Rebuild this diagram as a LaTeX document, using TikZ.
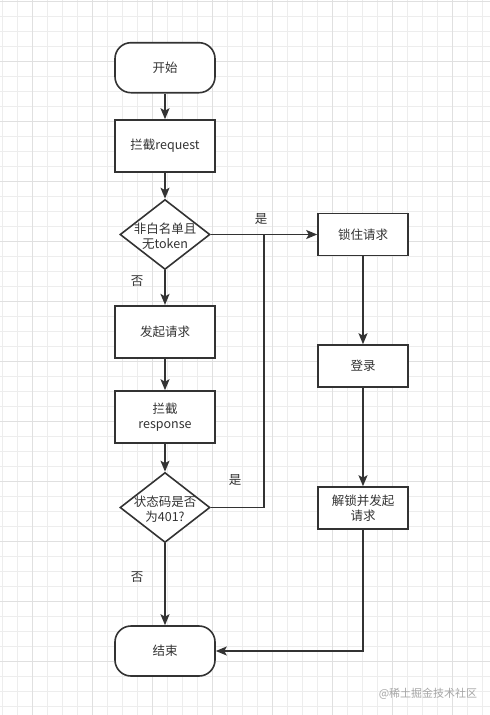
\documentclass[tikz,border=0pt]{standalone}
\usepackage{fontspec}
\setmainfont{Noto Sans CJK SC}
\usetikzlibrary{shapes.geometric,arrows.meta}
\definecolor{ink}{HTML}{333333}
\definecolor{txt}{HTML}{333333}
\definecolor{gridminor}{HTML}{EDEDED}
\definecolor{gridmajor}{HTML}{E0E0E0}
\definecolor{wm}{HTML}{A6A6A6}
\tikzset{
  base/.style={draw=ink, line width=1.6pt, fill=white, inner sep=0pt, text=txt,
    font=\fontsize{12.5}{15}\selectfont, align=center},
  term/.style={base, rectangle, rounded corners=16pt, minimum width=100pt, minimum height=50pt},
  proc/.style={base, rectangle, minimum width=100pt, minimum height=52pt},
  procs/.style={base, rectangle, minimum width=90pt, minimum height=42pt},
  dia/.style={base, diamond, minimum width=90pt, minimum height=70pt},
  lbl/.style={text=txt, font=\fontsize{12.5}{15}\selectfont, inner sep=0pt},
  conn/.style={draw=ink, line width=1.6pt, -{Stealth[length=11pt,width=9pt,inset=2.5pt]}},
  plain/.style={draw=ink, line width=1.6pt}
}
\begin{document}
\begin{tikzpicture}[x=1pt,y=-1pt]
\useasboundingbox (0,0) rectangle (490,715);
\fill[white] (0,0) rectangle (490,715);
% grid
\foreach \k in {0,...,32} {\draw[gridminor, line width=0.8pt] ({2.7+15*\k},0) -- ({2.7+15*\k},715);}
\foreach \k in {0,...,47} {\draw[gridminor, line width=0.8pt] (0,{1+15*\k}) -- (490,{1+15*\k});}
\foreach \k in {0,...,7} {\draw[gridmajor, line width=0.8pt] ({32.7+60*\k},0) -- ({32.7+60*\k},715);}
\foreach \k in {0,...,11} {\draw[gridmajor, line width=0.8pt] (0,{1+60*\k}) -- (490,{1+60*\k});}

% nodes
\node[term] (start) at (165,67.7) {开始};
\node[proc] (req) at (165,146) {拦截request};
\node[dia] (d1) at (165,234.5) {};
\node[lbl, align=center] (d1t) at (165,236) {非白名单且\\无token};
\node[proc] (send) at (165,331.7) {发起请求};
\node[proc] (resp) at (165,417) {拦截\\response};
\node[dia] (d2) at (165,507.5) {};
\node[lbl, align=center] (d2t) at (165,509) {状态码是否\\为401?};
\node[term] (end) at (165,651) {结束};
\node[procs] (lock) at (363,234.5) {锁住请求};
\node[procs] (login) at (363,366) {登录};
\node[procs] (unlock) at (363,508) {解锁并发起\\请求};
\coordinate (j1) at (264,234.5);
\coordinate (j2) at (264,507.5);

% connectors
\draw[conn] (start) -- (req);
\draw[conn] (req) -- (d1);
\draw[conn] (d1) -- (send);
\draw[conn] (send) -- (resp);
\draw[conn] (resp) -- (d2);
\draw[conn] (d2) -- (end);
\draw[conn] (d1.east) -- (lock.west);
\draw[plain] (d2.east) -- (j2) -- (j1);
\draw[conn] (lock) -- (login);
\draw[conn] (login) -- (unlock);
\draw[conn] (unlock.south) |- (end.east);

% labels
\node[lbl] (yes1) at (261,219) {是};
\node[lbl] (no1) at (137,281) {否};
\node[lbl] (yes2) at (235,480) {是};
\node[lbl] (no2) at (137,577) {否};
\node[text=wm, font=\fontsize{11}{13}\selectfont, inner sep=0pt] (wmk) at (428,694) {@稀土掘金技术社区};
\end{tikzpicture}
\end{document}
